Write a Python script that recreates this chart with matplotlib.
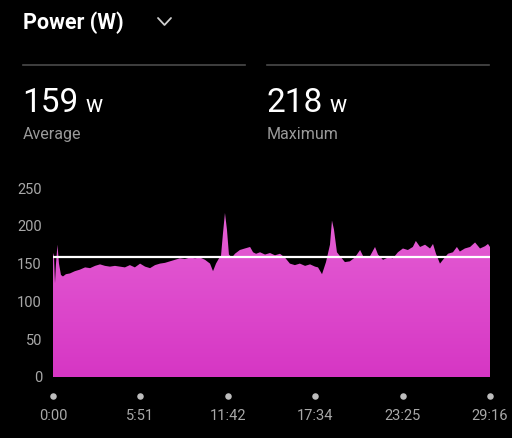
import matplotlib.pyplot as plt
import numpy as np
from matplotlib.colors import LinearSegmentedColormap
from matplotlib.lines import Line2D

plt.rcParams["font.family"] = ["Roboto", "DejaVu Sans"]

COLOR_BG = "#000000"
COLOR_TICK = "#a8a8a8"
COLOR_SUB = "#9a9a9a"
COLOR_SEP = "#4a4a4a"
COLOR_TOP = "#e560d5"
COLOR_BOTTOM = "#d636c4"

# elapsed seconds and power in watts
seconds = [
    0, 4, 8, 12, 18, 24, 32, 40, 52, 68, 88, 108, 129, 149, 169, 189, 209,
    229, 249, 269, 289, 309, 329, 350, 370, 390, 410, 430, 450, 470, 490, 510,
    530, 550, 571, 591, 611, 631, 643, 655, 667, 675, 683, 691, 699, 707, 719,
    731, 751, 771, 792, 804, 816, 832, 852, 872, 892, 912, 932, 952, 972, 992,
    1013, 1033, 1053, 1065, 1081, 1097, 1113, 1121, 1129, 1141, 1153, 1173,
    1193, 1213, 1234, 1246, 1258, 1274, 1294, 1306, 1326, 1346, 1366, 1386,
    1406, 1426, 1446, 1458, 1475, 1495, 1515, 1527, 1539, 1555, 1567, 1587,
    1607, 1623, 1635, 1655, 1676, 1696, 1716, 1736, 1748, 1756,
]
power = [
    164, 160, 124, 150, 175, 150, 135, 133, 136, 137, 140, 142, 145, 144, 147,
    149, 147, 146, 147, 146, 145, 148, 145, 150, 146, 144, 148, 150, 151, 153,
    155, 157, 156, 158, 157, 158, 155, 150, 140, 150, 157, 160, 190, 217, 195,
    162, 158, 163, 168, 170, 172, 165, 163, 165, 162, 164, 161, 163, 158, 150,
    148, 150, 147, 149, 146, 145, 136, 152, 175, 207, 195, 165, 160, 152, 153,
    158, 168, 160, 158, 160, 172, 162, 155, 158, 157, 165, 170, 168, 172, 180,
    172, 175, 170, 176, 163, 150, 155, 163, 165, 172, 166, 170, 172, 178, 170,
    173, 176, 172,
]
average = 159
maximum = 218
y_ticks = [0, 50, 100, 150, 200, 250]
x_ticks = [0, 351, 702, 1054, 1405, 1756]
x_labels = ["0:00", "5:51", "11:42", "17:34", "23:25", "29:16"]

W, H = 512, 438
fig = plt.figure(figsize=(W / 100, H / 100), dpi=100, facecolor=COLOR_BG)


def fx(px):
    return px / W


def fy(py):
    return 1 - py / H


# header
fig.text(fx(23), fy(23), "Power (W)", color="white", fontsize=15.5,
         fontweight="bold", va="center", ha="left")
fig.add_artist(Line2D([fx(158), fx(164.5), fx(171)], [fy(18), fy(25), fy(18)],
                      color="#cfcfcf", lw=1.3, solid_capstyle="round"))

# separators
fig.add_artist(Line2D([fx(23), fx(245)], [fy(65), fy(65)], color=COLOR_SEP, lw=1.2))
fig.add_artist(Line2D([fx(267), fx(489)], [fy(65), fy(65)], color=COLOR_SEP, lw=1.2))

# stats
for x0, val, lab in [(23, average, "Average"), (267, maximum, "Maximum")]:
    t = fig.text(fx(x0 - 1), fy(112), str(val), color="white", fontsize=24,
                 va="baseline", ha="left")
    fig.canvas.draw()
    bb = t.get_window_extent()
    fig.text(bb.x1 / W + fx(7), fy(112), "w", color="white", fontsize=16.5,
             va="baseline", ha="left")
    fig.text(fx(x0), fy(134.5), lab, color=COLOR_SUB, fontsize=11.5,
             va="center", ha="left")

# chart
ax = fig.add_axes([fx(53), fy(377), fx(490) - fx(53), fy(188) - fy(377)])
ax.set_facecolor(COLOR_BG)
ax.set_xlim(0, seconds[-1])
ax.set_ylim(0, 250)

poly = ax.fill_between(seconds, 0, power, color="none", lw=0)
cmap = LinearSegmentedColormap.from_list("pw", [COLOR_BOTTOM, COLOR_TOP])
grad = np.linspace(0, 1, 256).reshape(-1, 1)
img = ax.imshow(grad, cmap=cmap, aspect="auto", origin="lower",
                extent=[0, seconds[-1], 0, max(power)], zorder=1)
img.set_clip_path(poly.get_paths()[0], transform=ax.transData)

ax.axhline(average, color="white", lw=1.6, zorder=3)

for s in ax.spines.values():
    s.set_visible(False)
ax.set_yticks(y_ticks)
ax.set_yticklabels([str(v) for v in y_ticks])
ax.tick_params(axis="y", length=0, pad=8, labelsize=10.5, labelcolor=COLOR_TICK)
ax.set_xticks([])

# x tick dots and labels
ax.scatter(x_ticks, [-25] * len(x_ticks), s=22, color="#bdbdbd",
           clip_on=False, zorder=4, lw=0)
for xt, lab in zip(x_ticks, x_labels):
    ax.text(xt, -52, lab, color=COLOR_TICK, fontsize=10.5, ha="center",
            va="center", clip_on=False)

fig.savefig("out.png", dpi=100, facecolor=COLOR_BG)
